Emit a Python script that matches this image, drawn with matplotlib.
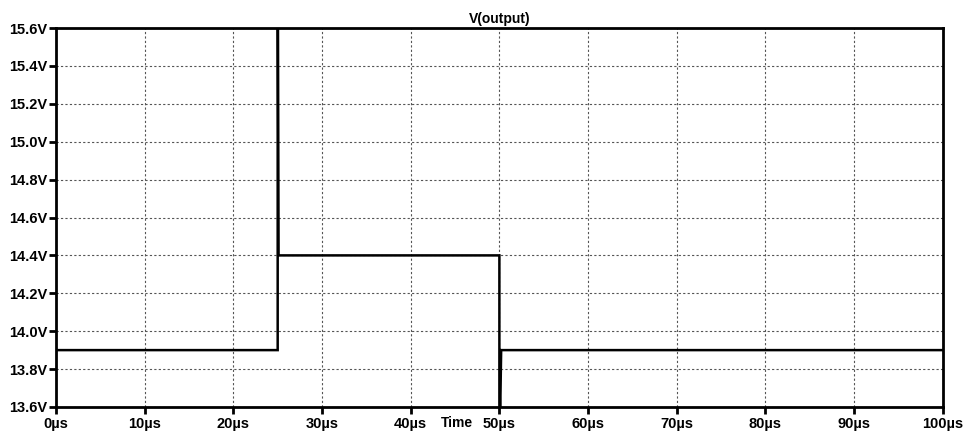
import matplotlib.pyplot as plt
from matplotlib.ticker import FuncFormatter

plt.rcParams['font.family'] = ['Liberation Sans', 'DejaVu Sans']

# transient trace of V(output), time in microseconds
time_us = [0, 25.0, 25.0, 25.1, 50.0, 50.0, 50.12, 50.12, 50.2, 100]
v_out = [13.9, 13.9, 16.2, 14.4, 14.4, 13.3, 13.3, 13.66, 13.9, 13.9]

x_ticks = list(range(0, 101, 10))
y_ticks = [13.6, 13.8, 14.0, 14.2, 14.4, 14.6, 14.8, 15.0, 15.2, 15.4, 15.6]

fig = plt.figure(figsize=(9.65, 4.32), dpi=100)
ax = fig.add_axes([0.058, 0.058, 0.919, 0.877])

ax.plot(time_us, v_out, color='black', lw=1.8, solid_joinstyle='miter')

ax.set_xlim(0, 100)
ax.set_ylim(13.6, 15.6)
ax.set_xticks(x_ticks)
ax.set_yticks(y_ticks)
ax.xaxis.set_major_formatter(FuncFormatter(lambda v, p: f'{v:.0f}\u00b5s'))
ax.yaxis.set_major_formatter(FuncFormatter(lambda v, p: f'{v:.1f}V'))

ax.grid(True, color='#555555', ls=(0, (2, 2)), lw=0.8)
for s in ax.spines.values():
    s.set_linewidth(2)
    s.set_color('black')

ax.tick_params(axis='both', direction='out', length=5, width=2, labelsize=10.5)
ax.tick_params(axis='x', pad=2.5)
ax.tick_params(axis='y', pad=1)
for lbl in ax.get_xticklabels() + ax.get_yticklabels():
    lbl.set_fontweight('bold')

ax.set_title('V(output)', fontsize=10, fontweight='bold', pad=4)
ax.annotate('Time', xy=(45.2, 0), xycoords=('data', 'axes fraction'),
            xytext=(0, -9), textcoords='offset pixels',
            ha='center', va='top', fontsize=10, fontweight='bold')

fig.savefig('out.png', dpi=100)
